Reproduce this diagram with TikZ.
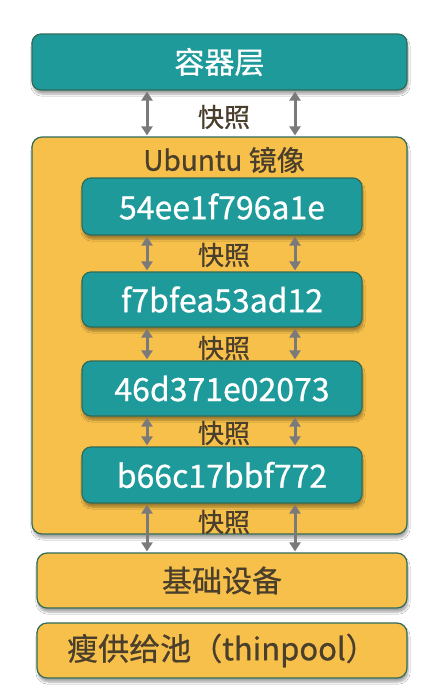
\documentclass[tikz,border=0pt]{standalone}
\usepackage{fontspec}
\setmainfont{Noto Sans CJK SC}[FakeBold=0.7]
\usetikzlibrary{arrows.meta,shadows.blur}
\definecolor{teal1}{HTML}{1F9A9A}
\definecolor{yel}{HTML}{F6C04A}
\definecolor{bord}{HTML}{2F6B58}
\definecolor{txt}{HTML}{4A3E2C}
\definecolor{arrg}{HTML}{7A7A7A}
\tikzset{
  shad/.style={blur shadow={shadow xshift=1pt, shadow yshift=-4pt, shadow blur steps=6, shadow opacity=35}},
  tealbox/.style={shad, draw=bord, line width=1.2pt, fill=teal1, rounded corners=9pt, text=white, inner sep=0pt},
  yelbox/.style={shad, draw=bord, line width=1.2pt, fill=yel, rounded corners=10pt, text=txt, inner sep=0pt},
  lbl/.style={text=txt, inner sep=0pt, font=\fontsize{26}{30}\selectfont},
  hashf/.style={font=\fontsize{32}{36}\selectfont},
  arr/.style={draw=arrg, line width=3pt, {Triangle[width=11pt,length=9pt]}-{Triangle[width=11pt,length=9pt]}, shorten <=1pt, shorten >=1pt},
}
\begin{document}
\begin{tikzpicture}[x=1pt,y=-1pt]
\useasboundingbox (0,0) rectangle (447,696);
\fill[white] (0,0) rectangle (447,696);
\coordinate (L) at (147,0);
\coordinate (R) at (295,0);
\node[tealbox, minimum width=375pt, minimum height=56pt, font=\fontsize{30}{34}\selectfont] (c) at (219.5,62) {容器层};
\node[yelbox, minimum width=375pt, minimum height=397pt] (u) at (219.5,335.5) {};
\node[lbl, font=\fontsize{28}{32}\selectfont] (ul) at (224,160) {Ubuntu 镜像};
\node[tealbox, minimum width=280pt, minimum height=57pt, hashf] (h1) at (222,206.5) {54ee1f796a1e};
\node[tealbox, minimum width=280pt, minimum height=55pt, hashf] (h2) at (222,299.5) {f7bfea53ad12};
\node[tealbox, minimum width=280pt, minimum height=55pt, hashf] (h3) at (222,388.5) {46d371e02073};
\node[tealbox, minimum width=280pt, minimum height=56pt, hashf] (h4) at (222,475) {b66c17bbf772};
\node[yelbox, minimum width=370pt, minimum height=55pt, font=\fontsize{30}{34}\selectfont] (b) at (222,580.5) {基础设备};
\node[yelbox, minimum width=370pt, minimum height=55pt, font=\fontsize{31}{34}\selectfont] (t) at (222,650.5) {瘦供给池（thinpool）};
\node[lbl] (k0) at (224,117) {快照};
\node[lbl] (k1) at (224,255) {快照};
\node[lbl] (k2) at (224,348) {快照};
\node[lbl] (k3) at (224,433) {快照};
\node[lbl] (k4) at (224,522) {快照};
\draw[arr] (c.south -| L) -- (u.north -| L);
\draw[arr] (c.south -| R) -- (u.north -| R);
\draw[arr] (h1.south -| L) -- (h2.north -| L);
\draw[arr] (h1.south -| R) -- (h2.north -| R);
\draw[arr] (h2.south -| L) -- (h3.north -| L);
\draw[arr] (h2.south -| R) -- (h3.north -| R);
\draw[arr] (h3.south -| L) -- (h4.north -| L);
\draw[arr] (h3.south -| R) -- (h4.north -| R);
\draw[arr] (h4.south -| L) -- (b.north -| L);
\draw[arr] (h4.south -| R) -- (b.north -| R);
\end{tikzpicture}
\end{document}
